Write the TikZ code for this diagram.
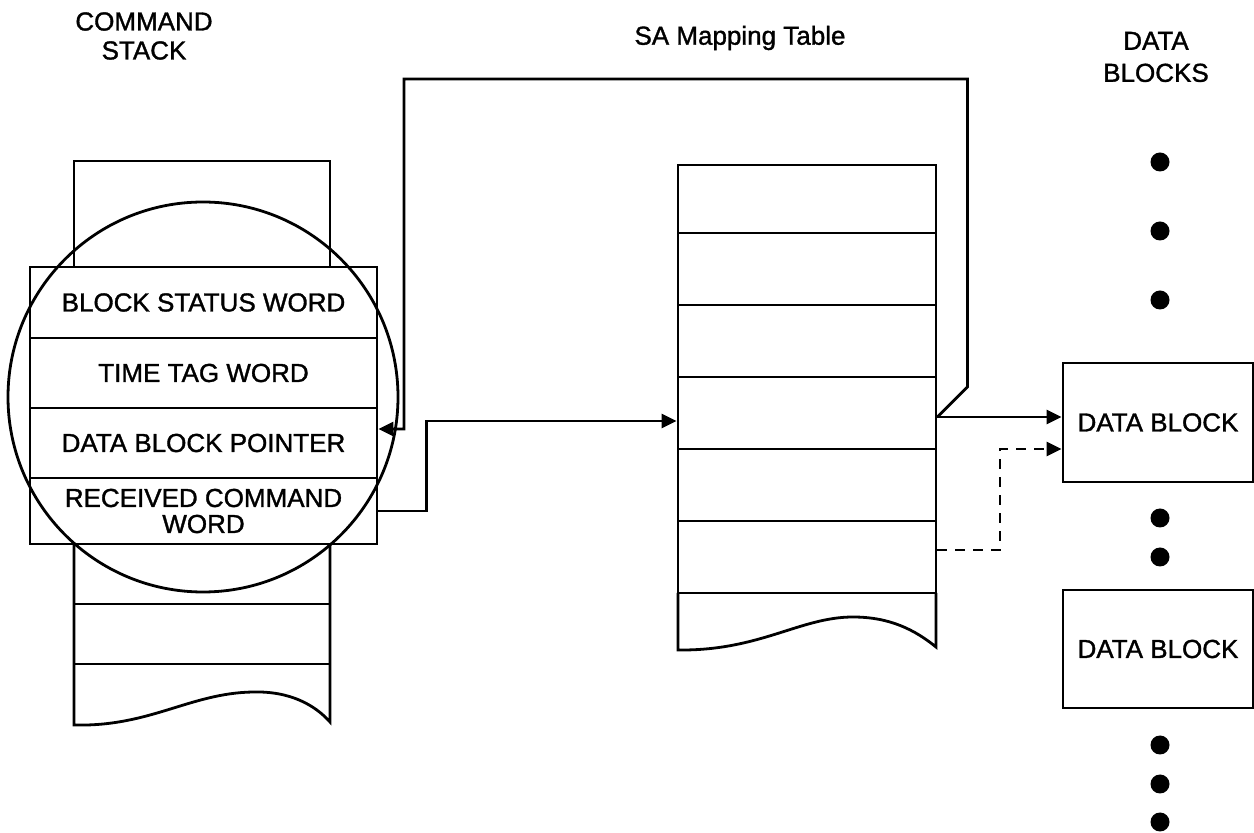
\documentclass[tikz,border=0pt]{standalone}
\usepackage{fontspec}
\setmainfont{Liberation Sans}[UprightFeatures={FakeBold=1.3}]
\usetikzlibrary{arrows.meta}
\begin{document}
\begin{tikzpicture}[x=0.5pt,y=-0.5pt,line width=1.4pt,
  font=\fontsize{13}{14.5}\selectfont,
  arr/.style={-{Triangle[length=7.5pt,width=7pt]}},
  cell/.style={draw,fill=white,inner sep=0pt,minimum width=173.5pt,align=center},
  tcell/.style={draw,inner sep=0pt,minimum width=129pt},
  dblock/.style={draw,inner sep=0pt,minimum width=95pt},
  dotmark/.style={fill=black,circle,inner sep=0pt,minimum size=9.5pt},
  title/.style={align=center,inner sep=0pt}]
\useasboundingbox (0,0) rectangle (1254,833);

% headings
\node[title,font=\fontsize{13}{14.5}\selectfont] (hcmd) at (144,36) {COMMAND\\STACK};
\node[title] (hsa) at (740,38) {SA Mapping Table};
\node[title,font=\fontsize{13}{16}\selectfont] (hdb) at (1156,57) {DATA\\BLOCKS};

% command stack, rear part
\draw (74,300) -- (74,161) -- (330,161) -- (330,300);

% command stack, magnified entry
\node[cell,minimum height=35.5pt] (bsw) at (203.5,302.5) {BLOCK STATUS WORD};
\node[cell,minimum height=35pt] (ttw) at (203.5,373) {TIME TAG WORD};
\node[cell,minimum height=35pt] (dbp) at (203.5,443) {DATA BLOCK POINTER};
\node[cell,minimum height=33pt,font=\fontsize{13}{13}\selectfont] (rcw) at (203.5,511) {RECEIVED COMMAND\\WORD};

% command stack, lower entries with torn edge
\draw (74,544) -- (74,725)
  .. controls (150,727) and (190,693) .. (253,692)
  .. controls (290,691) and (315,705) .. (330,722) -- (330,544);
\draw (74,604) -- (330,604);
\draw (74,664) -- (330,664);

% magnifier ring
\node[draw,circle,inner sep=0pt,minimum size=195pt] (lens) at (203,397) {};

% SA mapping table
\node[tcell,minimum height=34pt] (r1) at (807,199) {};
\node[tcell,minimum height=36pt] (r2) at (807,269) {};
\node[tcell,minimum height=36pt] (r3) at (807,341) {};
\node[tcell,minimum height=36pt] (r4) at (807,413) {};
\node[tcell,minimum height=36pt] (r5) at (807,485) {};
\node[tcell,minimum height=36pt] (r6) at (807,557) {};
\draw (678,593) -- (678,650)
  .. controls (760,651) and (800,617) .. (853,617)
  .. controls (890,617) and (915,630) .. (936,647) -- (936,593);

% data blocks
\node[dblock,minimum height=59.5pt] (db1) at (1158,422.5) {DATA BLOCK};
\node[dblock,minimum height=59pt] (db2) at (1158,649) {DATA BLOCK};
\foreach \yy [count=\i] in {162,231,300,518,557,745,784,822}
  \node[dotmark] (dot\i) at (1160,\yy) {};

% connectors
\coordinate (ltop) at (404,79);
\draw[arr] ([yshift=-2pt]r4.east) -- ++(30,-30) |- (ltop) |- ([yshift=7pt]dbp.east);
\draw[arr] (rcw.east) -- ++(48,0) |- ([yshift=-4pt]r4.west);
\draw[arr] ([yshift=-2pt]r4.east) -- ([yshift=-2pt]r4.east -| db1.west);
\draw[arr,dash pattern=on 5pt off 4pt] ([yshift=3.5pt]r6.east) -- (1000,550) |- ([yshift=-13.25pt]db1.west);
\end{tikzpicture}
\end{document}
